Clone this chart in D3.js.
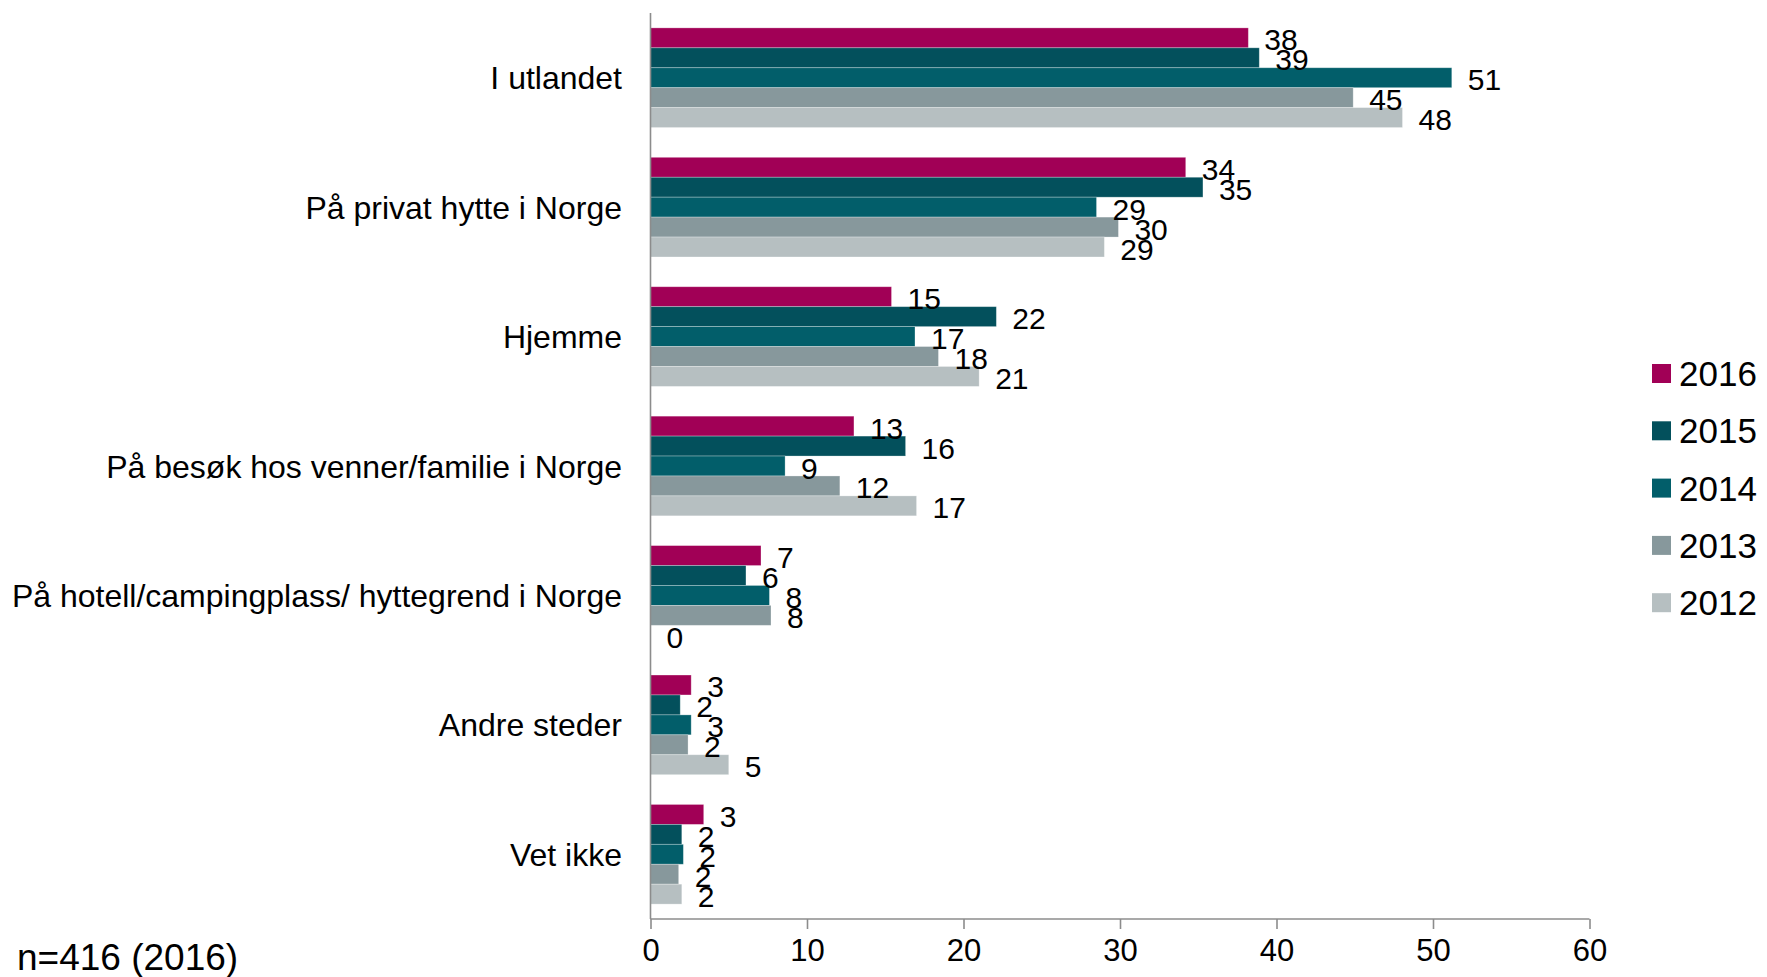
<!DOCTYPE html>
<html><head><meta charset="utf-8">
<script src="https://cdn.jsdelivr.net/npm/d3@7"></script>
<style>body{margin:0;background:#fff}svg{display:block}text{font-family:"Liberation Sans",Arial,sans-serif;fill:#000}</style>
</head><body>
<svg id="c" width="1767" height="977"></svg>
<script>
const categories = ["I utlandet","På privat hytte i Norge","Hjemme","På besøk hos venner/familie i Norge","På hotell/campingplass/ hyttegrend i Norge","Andre steder","Vet ikke"];
const years = ["2016","2015","2014","2013","2012"];
const v2016 = [38.2, 34.2, 15.4, 13.0, 7.06, 2.6, 3.4];
const v2015 = [38.9, 35.3, 22.1, 16.3, 6.1, 1.9, 2.0];
const v2014 = [51.2, 28.5, 16.9, 8.6, 7.6, 2.6, 2.1];
const v2013 = [44.9, 29.9, 18.4, 12.1, 7.7, 2.4, 1.8];
const v2012 = [48.05, 29.0, 21.0, 17.0, 0, 5.0, 2.0];
const xTicks = [0,10,20,30,40,50,60];
const note = "n=416 (2016)";
const colors = ["#A10056","#03505C","#025E6A","#87989C","#B6BFC1"];
const series = [v2016,v2015,v2014,v2013,v2012];

const svg = d3.select("#c");
const x = d3.scaleLinear().domain([0,60]).range([650.5,1589.5]);
const y = d3.scaleBand().domain(categories).range([13,919]).paddingInner(0.23).paddingOuter(0.115);
const yi = d3.scaleBand().domain(years).range([0,y.bandwidth()]);
const color = d3.scaleOrdinal().domain(years).range(colors);

const rows = [];
categories.forEach((c,i)=>years.forEach((yr,j)=>rows.push({c,yr,v:series[j][i]})));

svg.append("g").selectAll("rect").data(rows).join("rect")
  .attr("x",x(0)).attr("y",d=>y(d.c)+yi(d.yr))
  .attr("width",d=>x(d.v)-x(0)).attr("height",yi.bandwidth())
  .attr("fill",d=>color(d.yr))
  .attr("stroke","rgba(255,255,255,0.35)").attr("stroke-width",0.8);

svg.append("g").selectAll("text").data(rows).join("text")
  .attr("x",d=>x(d.v)+16).attr("y",d=>y(d.c)+yi(d.yr)+yi.bandwidth()/2+12.5)
  .attr("font-size",30).text(d=>Math.round(d.v));

// axes
const xa = svg.append("g").attr("transform","translate(0,919)")
  .call(d3.axisBottom(x).tickValues(xTicks).tickSize(10).tickPadding(10).tickFormat(d3.format("d")));
xa.select(".domain").attr("stroke","#8c8c8c").attr("stroke-width",1.6).attr("d",`M${x(0)},0H${x(60)}`);
xa.selectAll(".tick line").attr("stroke","#8c8c8c").attr("stroke-width",1.6);
xa.selectAll(".tick text").attr("font-size",31).attr("font-family","Liberation Sans, Arial, sans-serif").attr("fill","#000");

svg.append("line").attr("x1",x(0)).attr("x2",x(0)).attr("y1",13).attr("y2",919)
  .attr("stroke","#8c8c8c").attr("stroke-width",1.6);

svg.append("g").selectAll("text").data(categories).join("text")
  .attr("x",622).attr("y",d=>y(d)+y.bandwidth()/2+11.5)
  .attr("text-anchor","end").attr("font-size",32).text(d=>d);

// legend
const lg = svg.append("g").selectAll("g").data(years).join("g")
  .attr("transform",(d,i)=>`translate(1652,${364+i*57.3})`);
lg.append("rect").attr("width",19).attr("height",19).attr("fill",d=>color(d));
lg.append("text").attr("x",27).attr("y",22).attr("font-size",35).text(d=>d);

svg.append("text").attr("x",17).attr("y",970).attr("font-size",37).text(note);
</script>
</body></html>
